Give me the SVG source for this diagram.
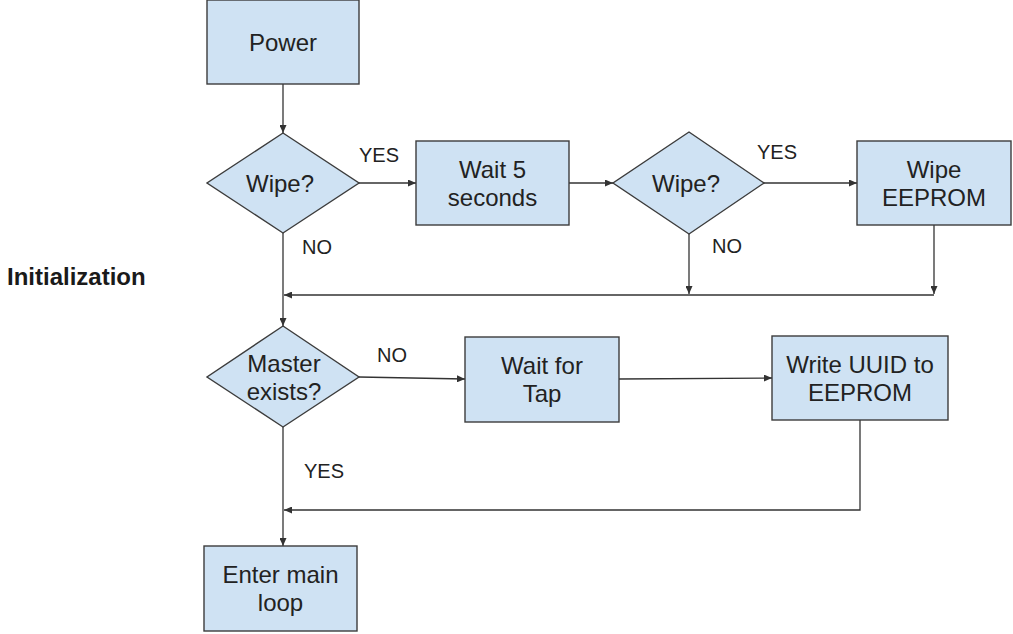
<svg xmlns="http://www.w3.org/2000/svg" width="1013" height="634" viewBox="0 0 1013 634">
  <style>
    .box { fill: #cfe2f3; stroke: #3c3c3c; stroke-width: 1.4; }
    .node-text { font-family: "Liberation Sans", Arial, sans-serif; font-size: 24px; fill: #222; text-anchor: middle; }
    .label { font-family: "Liberation Sans", Arial, sans-serif; font-size: 20px; fill: #222; }
    .title { font-family: "Liberation Sans", Arial, sans-serif; font-size: 24px; font-weight: bold; fill: #1a1a1a; }
    .edge { fill: none; stroke: #333; stroke-width: 1.3; }
    .arrow { marker-end: url(#head); }
  </style>
  <defs>
    <marker id="head" viewBox="0 0 8 7" refX="8" refY="3.5" markerWidth="8" markerHeight="7" markerUnits="userSpaceOnUse" orient="auto">
      <path d="M0,0 L8,3.5 L0,7 z" fill="#333"/>
    </marker>
  </defs>

  <rect width="1013" height="634" fill="#fff"/>

  <text class="title" x="7" y="285">Initialization</text>

  <!-- connectors -->
  <g id="connectors">
    <path class="edge arrow" d="M283 84 V133"/>
    <path class="edge arrow" d="M359 183 H416"/>
    <path class="edge arrow" d="M569 183 H613"/>
    <path class="edge arrow" d="M764 183 H857"/>
    <path class="edge arrow" d="M689 234 V294"/>
    <path class="edge arrow" d="M934 225 V294"/>
    <path class="edge arrow" d="M934 295 H284"/>
    <path class="edge arrow" d="M283 233 V326"/>
    <path class="edge arrow" d="M359 377 L465 379"/>
    <path class="edge arrow" d="M619 379 L772 378"/>
    <path class="edge arrow" d="M860 420 V510 H284"/>
    <path class="edge arrow" d="M283 427 V546"/>
    <text class="label" x="359" y="162">YES</text>
    <text class="label" x="302" y="254">NO</text>
    <text class="label" x="757" y="159">YES</text>
    <text class="label" x="712" y="253">NO</text>
    <text class="label" x="377" y="362">NO</text>
    <text class="label" x="304" y="478">YES</text>
  </g>

  <!-- nodes -->
  <g id="power">
    <rect class="box" x="207" y="0" width="152" height="84"/>
    <text class="node-text" x="283" y="51">Power</text>
  </g>
  <g id="wipe-check-1">
    <polygon class="box" points="283,133 359,183 283,233 207,183"/>
    <text class="node-text" x="280" y="192">Wipe?</text>
  </g>
  <g id="wait-5">
    <rect class="box" x="416" y="141" width="153" height="84"/>
    <text class="node-text" x="492.5" y="178">Wait 5</text>
    <text class="node-text" x="492.5" y="206">seconds</text>
  </g>
  <g id="wipe-check-2">
    <polygon class="box" points="689,132 764,183 689,234 613,183"/>
    <text class="node-text" x="686" y="192">Wipe?</text>
  </g>
  <g id="wipe-eeprom">
    <rect class="box" x="857" y="141" width="154" height="84"/>
    <text class="node-text" x="934" y="178">Wipe</text>
    <text class="node-text" x="934" y="206">EEPROM</text>
  </g>
  <g id="master-check">
    <polygon class="box" points="283,326 359,377 283,427 207,377"/>
    <text class="node-text" x="284" y="372">Master</text>
    <text class="node-text" x="284" y="400">exists?</text>
  </g>
  <g id="wait-tap">
    <rect class="box" x="465" y="337" width="154" height="85"/>
    <text class="node-text" x="542" y="374">Wait for</text>
    <text class="node-text" x="542" y="402">Tap</text>
  </g>
  <g id="write-uuid">
    <rect class="box" x="772" y="336" width="176" height="84"/>
    <text class="node-text" x="860" y="373">Write UUID to</text>
    <text class="node-text" x="860" y="401">EEPROM</text>
  </g>
  <g id="main-loop">
    <rect class="box" x="204" y="546" width="153" height="85"/>
    <text class="node-text" x="280.5" y="583">Enter main</text>
    <text class="node-text" x="280.5" y="611">loop</text>
  </g>
</svg>
